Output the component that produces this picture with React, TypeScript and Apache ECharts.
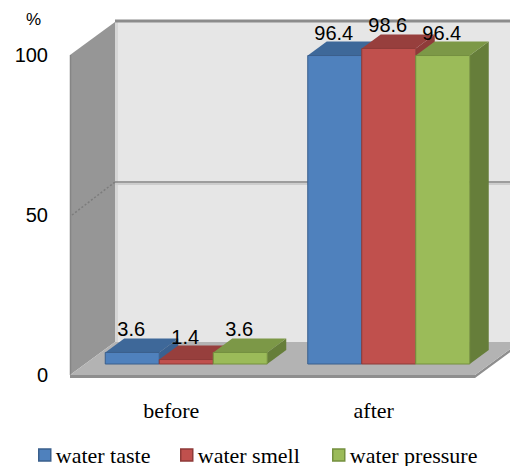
import React, { useEffect, useRef } from "react";
import * as echarts from "echarts";

// Survey results (%), before and after the intervention
const CATEGORIES = ["before", "after"];
const WATER_TASTE = [3.6, 96.4];
const WATER_SMELL = [1.4, 98.6];
const WATER_PRESSURE = [3.6, 96.4];
const SERIES_NAMES = ["water taste", "water smell", "water pressure"];
const Y_MIN = 0;
const Y_MAX = 100;
const Y_STEP = 50;

// Shading for each series: front face, top face, right side face, outline
const PALETTES = [
  { front: "#4F81BD", top: "#3E6899", side: "#3A6190", edge: "#3A5F8C" },
  { front: "#C0504D", top: "#973F3D", side: "#8F3B39", edge: "#8E3A38" },
  { front: "#9BBB59", top: "#7C9847", side: "#667E3A", edge: "#74903F" },
];

// Oblique projection offsets (pixels) for the 3D box
const WALL_DX = 45;
const WALL_DY = -33;
const FRONT_DX = 15; // bars' front plane, measured from the floor's front edge
const FRONT_DY = -11;
const BAR_DX = 19; // bar depth
const BAR_DY = -14;
const GROUP_FRACTION = 0.8;

const SANS = '"Liberation Sans", Arial, sans-serif';
const SERIF = '"Liberation Serif", "Times New Roman", serif';

function renderWalls(params: any, api: any) {
  const cs = params.coordSys;
  const L = cs.x;
  const R = cs.x + cs.width;
  const yTop = api.coord([0, Y_MAX])[1];
  const yBase = api.coord([0, Y_MIN])[1];
  const yMid = api.coord([0, Y_STEP])[1];
  const children: any[] = [];
  // back wall
  children.push({
    type: "polygon",
    shape: {
      points: [
        [L + WALL_DX, yTop + WALL_DY],
        [R + WALL_DX, yTop + WALL_DY],
        [R + WALL_DX, yBase + WALL_DY],
        [L + WALL_DX, yBase + WALL_DY],
      ],
    },
    style: { fill: "#E6E6E6" },
  });
  // light strip where back wall meets side wall
  children.push({
    type: "rect",
    shape: { x: L + WALL_DX, y: yTop + WALL_DY, width: 3, height: yBase - yTop },
    style: { fill: "#D6D6D6" },
  });
  // top border of back wall
  children.push({
    type: "line",
    shape: { x1: L + WALL_DX, y1: yTop + WALL_DY - 1, x2: R + WALL_DX, y2: yTop + WALL_DY - 1 },
    style: { stroke: "#8C8C8C", lineWidth: 3 },
  });
  // gridline at the middle tick on back wall
  children.push({
    type: "line",
    shape: { x1: L + WALL_DX, y1: yMid + WALL_DY + 2, x2: R + WALL_DX, y2: yMid + WALL_DY + 2 },
    style: { stroke: "#CDCDCD", lineWidth: 2 },
  });
  children.push({
    type: "line",
    shape: { x1: L + WALL_DX, y1: yMid + WALL_DY, x2: R + WALL_DX, y2: yMid + WALL_DY },
    style: { stroke: "#858585", lineWidth: 1.5 },
  });
  // side wall
  children.push({
    type: "polygon",
    shape: {
      points: [
        [L, yTop],
        [L + WALL_DX, yTop + WALL_DY],
        [L + WALL_DX, yBase + WALL_DY],
        [L, yBase],
      ],
    },
    style: { fill: "#969696" },
  });
  children.push({
    type: "line",
    shape: { x1: L + 0.5, y1: yTop, x2: L + 0.5, y2: yBase },
    style: { stroke: "#858585", lineWidth: 1.5 },
  });
  // gridline on side wall
  children.push({
    type: "line",
    shape: { x1: L + 2, y1: yMid, x2: L + WALL_DX, y2: yMid + WALL_DY },
    style: { stroke: "#7C7C7C", lineWidth: 1.5, lineDash: [2, 2] },
  });
  // floor slab: front and right edges
  children.push({
    type: "polygon",
    shape: {
      points: [
        [L, yBase],
        [R, yBase],
        [R + WALL_DX, yBase + WALL_DY],
        [R + WALL_DX, yBase + WALL_DY + 3],
        [R, yBase + 3],
        [L, yBase + 3],
      ],
    },
    style: { fill: "#8E8E8E" },
  });
  // floor top
  children.push({
    type: "polygon",
    shape: {
      points: [
        [L, yBase],
        [R, yBase],
        [R + WALL_DX, yBase + WALL_DY],
        [L + WALL_DX, yBase + WALL_DY],
      ],
    },
    style: { fill: "#B3B3B3" },
  });
  return { type: "group", children };
}

function makeBarRenderer(idx: number) {
  const pal = PALETTES[idx];
  return (params: any, api: any) => {
    const cat = api.value(0);
    const v = api.value(1);
    const base = api.coord([cat, 0]);
    const top = api.coord([cat, v]);
    const band = api.size([1, 0])[0];
    const w = (band * GROUP_FRACTION) / 3;
    const x = base[0] - (band * GROUP_FRACTION) / 2 + idx * w + FRONT_DX;
    const by = base[1] + FRONT_DY;
    const ty = top[1] + FRONT_DY;
    return {
      type: "group",
      children: [
        {
          type: "polygon",
          shape: {
            points: [
              [x + w, ty],
              [x + w + BAR_DX, ty + BAR_DY],
              [x + w + BAR_DX, by + BAR_DY],
              [x + w, by],
            ],
          },
          style: { fill: pal.side },
        },
        {
          type: "polygon",
          shape: {
            points: [
              [x, ty],
              [x + w, ty],
              [x + w + BAR_DX, ty + BAR_DY],
              [x + BAR_DX, ty + BAR_DY],
            ],
          },
          style: { fill: pal.top },
        },
        {
          type: "rect",
          shape: { x, y: ty, width: w, height: by - ty },
          style: { fill: pal.front, stroke: pal.edge, lineWidth: 1 },
        },
        {
          type: "text",
          z2: 100,
          style: {
            text: String(v),
            x: x + w / 2 - 1,
            y: ty + BAR_DY - 9,
            fill: "#000",
            fontSize: 20,
            fontFamily: SANS,
            align: "center",
            verticalAlign: "middle",
          },
        },
      ],
    };
  };
}

const LEGEND_LEFT = [38, 180, 332];

export default function App() {
  const ref = useRef<HTMLDivElement>(null);
  useEffect(() => {
    document.body.style.margin = "0";
    if (!ref.current) return;
    const chart = echarts.init(ref.current, undefined, { renderer: "svg" });
    const values = [WATER_TASTE, WATER_SMELL, WATER_PRESSURE];
    chart.setOption({
      animation: false,
      backgroundColor: "#FFFFFF",
      grid: { left: 70, right: 35, top: 55, bottom: 91 },
      xAxis: {
        type: "category",
        data: CATEGORIES,
        axisLine: { show: false },
        axisTick: { show: false },
        axisLabel: { color: "#000", fontSize: 22, fontFamily: SERIF, margin: 24 },
      },
      yAxis: {
        type: "value",
        min: Y_MIN,
        max: Y_MAX,
        interval: Y_STEP,
        axisLine: { show: false },
        axisTick: { show: false },
        splitLine: { show: false },
        axisLabel: { color: "#000", fontSize: 20, fontFamily: SANS, margin: 22 },
      },
      graphic: [
        {
          type: "text",
          left: 26,
          top: 11,
          style: { text: "%", fill: "#000", fontSize: 17, fontFamily: SANS },
        },
      ],
      legend: SERIES_NAMES.map((name, i) => ({
        left: LEGEND_LEFT[i],
        top: 444,
        padding: 0,
        itemWidth: 12,
        itemHeight: 12,
        itemGap: 0,
        icon: "rect",
        selectedMode: false,
        data: [
          {
            name,
            itemStyle: { color: PALETTES[i].front, borderColor: PALETTES[i].edge, borderWidth: 1.5 },
          },
        ],
        textStyle: { color: "#000", fontSize: 22, fontFamily: SERIF },
      })),
      series: [
        {
          type: "custom",
          name: "walls",
          z: 1,
          silent: true,
          clip: false,
          data: [[0, 0]],
          renderItem: renderWalls,
        },
        ...SERIES_NAMES.map((name, i) => ({
          type: "custom",
          name,
          z: 2,
          clip: false,
          itemStyle: { color: PALETTES[i].front },
          data: values[i].map((v, c) => [c, v]),
          encode: { x: 0, y: 1 },
          renderItem: makeBarRenderer(i),
        })),
      ],
    });
    return () => chart.dispose();
  }, []);
  return <div ref={ref} style={{ width: 510, height: 466 }} />;
}
